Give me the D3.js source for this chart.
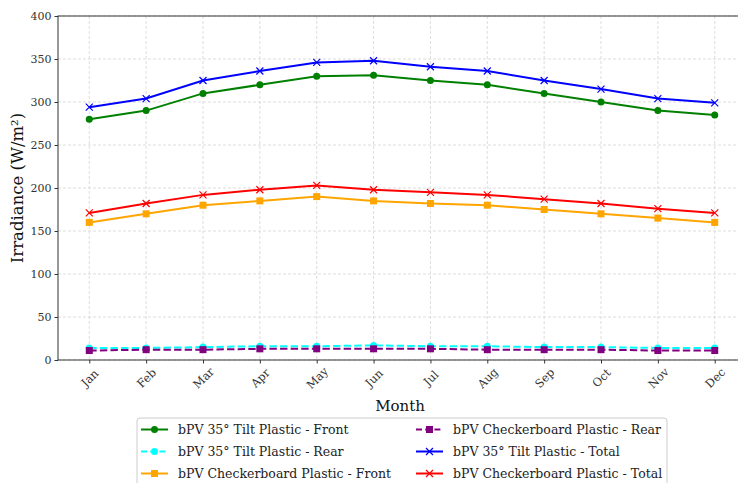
<!DOCTYPE html>
<html>
<head>
<meta charset="utf-8">
<script src="https://cdn.jsdelivr.net/npm/d3@7"></script>
<style>
  body { margin: 0; background: #fff; }
  svg { display: block; font-family: "DejaVu Serif", serif; }
</style>
</head>
<body>
<div id="chart"></div>
<script>
// months on the x axis
const months = ["Jan","Feb","Mar","Apr","May","Jun","Jul","Aug","Sep","Oct","Nov","Dec"];
const yTicks = [0, 50, 100, 150, 200, 250, 300, 350, 400];

// irradiance values (W/m²)
const tiltFront = [280, 290, 310, 320, 330, 331, 325, 320, 310, 300, 290, 285];
const tiltRear = [14, 14, 15, 16, 16, 17, 16, 16, 15, 15, 14, 14];
const checkFront = [160, 170, 180, 185, 190, 185, 182, 180, 175, 170, 165, 160];
const checkRear = [11, 12, 12, 13, 13, 13, 13, 12, 12, 12, 11, 11];
const tiltTotal = [294, 304, 325, 336, 346, 348, 341, 336, 325, 315, 304, 299];
const checkTotal = [171, 182, 192, 198, 203, 198, 195, 192, 187, 182, 176, 171];

const series = [
  {name: "bPV 35° Tilt Plastic - Front", values: tiltFront, color: "green", marker: "circle", dash: null},
  {name: "bPV 35° Tilt Plastic - Rear", values: tiltRear, color: "cyan", marker: "circle", dash: "7.4,3.2"},
  {name: "bPV Checkerboard Plastic - Front", values: checkFront, color: "orange", marker: "square", dash: null},
  {name: "bPV Checkerboard Plastic - Rear", values: checkRear, color: "purple", marker: "square", dash: "7.4,3.2"},
  {name: "bPV 35° Tilt Plastic - Total", values: tiltTotal, color: "blue", marker: "x", dash: null},
  {name: "bPV Checkerboard Plastic - Total", values: checkTotal, color: "red", marker: "x", dash: null}
];

const W = 738, H = 483;
const plot = {left: 58, right: 746, top: 16, bottom: 360};

const svg = d3.select("#chart").append("svg")
    .attr("width", W)
    .attr("height", H);

const x = d3.scalePoint()
    .domain(months)
    .range([plot.left, plot.right])
    .padding(0.55);

const y = d3.scaleLinear()
    .domain([0, 400])
    .range([plot.bottom, plot.top]);

// grid
const grid = svg.append("g").attr("class", "grid");
grid.selectAll(".vg")
  .data(months)
  .enter().append("line")
    .attr("x1", d => x(d)).attr("x2", d => x(d))
    .attr("y1", plot.top).attr("y2", plot.bottom)
    .style("stroke", "#d4d4d4")
    .style("stroke-width", 0.8)
    .style("stroke-dasharray", "3,2");
grid.selectAll(".hg")
  .data(yTicks)
  .enter().append("line")
    .attr("x1", plot.left).attr("x2", plot.right)
    .attr("y1", d => y(d)).attr("y2", d => y(d))
    .style("stroke", "#d4d4d4")
    .style("stroke-width", 0.8)
    .style("stroke-dasharray", "3,2");

// axes
const xAxis = svg.append("g")
    .attr("transform", "translate(0," + plot.bottom + ")")
    .call(d3.axisBottom(x).tickSize(3.5).tickPadding(4));
xAxis.select(".domain").remove();
xAxis.selectAll("text")
    .style("font-size", "11.5px")
    .style("font-family", "DejaVu Serif")
    .style("fill", "#333")
    .attr("text-anchor", "middle")
    .attr("dy", "0.35em")
    .attr("y", 18)
    .attr("transform", "rotate(-45,0,18)");
xAxis.selectAll(".tick line").style("stroke", "#333");

const yAxis = svg.append("g")
    .attr("transform", "translate(" + plot.left + ",0)")
    .call(d3.axisLeft(y).tickValues(yTicks).tickSize(3.5).tickPadding(3));
yAxis.select(".domain").remove();
yAxis.selectAll("text")
    .style("font-size", "11px")
    .style("font-family", "DejaVu Serif")
    .style("fill", "#333");
yAxis.selectAll(".tick line").style("stroke", "#333");

// spines
svg.append("rect")
    .attr("x", plot.left).attr("y", plot.top)
    .attr("width", plot.right - plot.left)
    .attr("height", plot.bottom - plot.top)
    .style("fill", "none")
    .style("stroke", "#333")
    .style("stroke-width", 1);

// axis labels
svg.append("text")
    .attr("x", (plot.left + plot.right) / 2 - 2)
    .attr("y", 411)
    .attr("text-anchor", "middle")
    .style("font-size", "15px")
    .style("fill", "#111")
    .text("Month");

svg.append("text")
    .attr("transform", "translate(22.5," + (plot.top + plot.bottom) / 2 + ") rotate(-90)")
    .attr("text-anchor", "middle")
    .style("font-size", "16.5px")
    .style("fill", "#111")
    .text("Irradiance (W/m²)");

// lines and markers
const line = d3.line()
    .x((d, i) => x(months[i]))
    .y(d => y(d));

function drawMarker(g, type, color, size) {
  if (type === "circle") {
    g.append("circle").attr("r", size / 2).style("fill", color);
  } else if (type === "square") {
    g.append("rect")
      .attr("x", -size / 2).attr("y", -size / 2)
      .attr("width", size).attr("height", size)
      .style("fill", color);
  } else {
    const h = size / 2;
    g.append("path")
      .attr("d", "M" + (-h) + "," + (-h) + "L" + h + "," + h + "M" + (-h) + "," + h + "L" + h + "," + (-h))
      .style("stroke", color)
      .style("stroke-width", 1.2)
      .style("fill", "none");
  }
}

series.forEach(function(s) {
  const g = svg.append("g").attr("class", "series");
  g.append("path")
    .datum(s.values)
    .attr("d", line)
    .style("fill", "none")
    .style("stroke", s.color)
    .style("stroke-width", 2)
    .style("stroke-dasharray", s.dash);
  g.selectAll(".pt")
    .data(s.values)
    .enter().append("g")
      .attr("transform", (d, i) => "translate(" + x(months[i]) + "," + y(d) + ")")
      .each(function() { drawMarker(d3.select(this), s.marker, s.color, 7); });
});

// legend
const legend = svg.append("g");
legend.append("rect")
    .attr("x", 137).attr("y", 418)
    .attr("width", 530).attr("height", 80)
    .attr("rx", 3)
    .style("fill", "white")
    .style("stroke", "#ccc")
    .style("stroke-width", 1);

series.forEach(function(s, i) {
  const col = Math.floor(i / 3), row = i % 3;
  const hx = col === 0 ? 141 : 416;
  const cy = 429.5 + row * 22;
  const item = legend.append("g");
  item.append("line")
    .attr("x1", hx).attr("x2", hx + 27)
    .attr("y1", cy).attr("y2", cy)
    .style("stroke", s.color)
    .style("stroke-width", 2)
    .style("stroke-dasharray", s.dash ? "6,3.2" : null);
  const m = item.append("g").attr("transform", "translate(" + (hx + 13.5) + "," + cy + ")");
  drawMarker(m, s.marker, s.color, 7);
  item.append("text")
    .attr("x", hx + 37)
    .attr("y", cy)
    .attr("dy", "0.35em")
    .style("font-size", "12.5px")
    .style("fill", "#222")
    .text(s.name);
});
</script>
</body>
</html>
